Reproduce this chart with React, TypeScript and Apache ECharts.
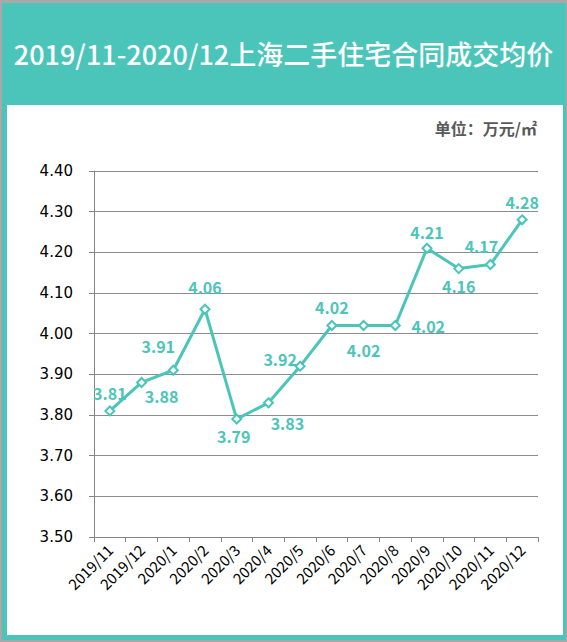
import React, { useEffect, useRef } from "react";
import * as echarts from "echarts";

const categories = [
  "2019/11", "2019/12", "2020/1", "2020/2", "2020/3", "2020/4", "2020/5",
  "2020/6", "2020/7", "2020/8", "2020/9", "2020/10", "2020/11", "2020/12",
];
const prices = [3.81, 3.88, 3.91, 4.06, 3.79, 3.83, 3.92, 4.02, 4.02, 4.02, 4.21, 4.16, 4.17, 4.28];
const labelOffsets: [number, number][] = [
  [0, -18], [20, 14], [-15, -24], [0, -22], [-3, 17], [19, 20], [-20, -7],
  [0, -19], [0, 24], [33, 0], [0, -16], [0, 17], [-9, -19], [0, -18],
];
const titleText = "2019/11-2020/12上海二手住宅合同成交均价";
const unitText = "单位：万元/㎡";

const TEAL = "#4BC5BA";
const FONT = "'Noto Sans CJK SC', 'Noto Sans', sans-serif";

export default function App() {
  const ref = useRef<HTMLDivElement>(null);
  useEffect(() => {
    document.body.style.margin = "0";
    if (!ref.current) return;
    const chart = echarts.init(ref.current, undefined, { renderer: "svg" });
    chart.setOption({
      animation: false,
      backgroundColor: "transparent",
      textStyle: { fontFamily: FONT },
      graphic: [
        {
          type: "text",
          x: 283.5,
          y: 53,
          style: {
            text: titleText,
            fill: "#ffffff",
            font: `500 27px ${FONT}`,
            align: "center",
            verticalAlign: "middle",
          },
        },
        {
          type: "text",
          x: 537,
          y: 128,
          style: {
            text: unitText,
            fill: "#595959",
            font: `bold 16px ${FONT}`,
            align: "right",
            verticalAlign: "middle",
          },
        },
      ],
      grid: { left: 94, right: 29, top: 171, bottom: 105, containLabel: false },
      xAxis: {
        type: "category",
        data: categories,
        boundaryGap: true,
        axisLine: { show: true, lineStyle: { color: "#868686", width: 1 } },
        axisTick: { show: true, alignWithLabel: false, length: 5, lineStyle: { color: "#868686" } },
        axisLabel: {
          rotate: 45,
          margin: 10,
          color: "#000000",
          fontSize: 15,
          fontFamily: FONT,
          interval: 0,
        },
        splitLine: { show: false },
      },
      yAxis: {
        type: "value",
        min: 3.5,
        max: 4.4,
        interval: 0.1,
        axisLine: { show: true, lineStyle: { color: "#868686", width: 1 } },
        axisTick: { show: true, length: 5, lineStyle: { color: "#868686" } },
        axisLabel: {
          margin: 21,
          color: "#000000",
          fontSize: 15,
          fontFamily: "'DejaVu Sans', sans-serif",
          formatter: (v: number) => v.toFixed(2),
        },
        splitLine: { show: true, lineStyle: { color: "#8c8c8c", width: 1 } },
      },
      series: [
        {
          type: "line",
          data: prices.map((v, i) => ({
            value: v,
            label: {
              show: true,
              position: "inside",
              offset: labelOffsets[i],
            },
          })),
          symbol: "diamond",
          symbolSize: 9,
          showAllSymbol: true,
          lineStyle: { color: TEAL, width: 3 },
          itemStyle: { color: "#ffffff", borderColor: TEAL, borderWidth: 2 },
          label: {
            show: true,
            color: TEAL,
            fontSize: 16,
            fontWeight: "bold",
            fontFamily: FONT,
            align: "center",
            verticalAlign: "middle",
            formatter: (p: any) => Number(p.value).toFixed(2),
          },
        },
      ],
    });
    return () => chart.dispose();
  }, []);

  return (
    <div style={{ position: "relative", width: 567, height: 642, background: "#a8a8a8", overflow: "hidden" }}>
      <div style={{ position: "absolute", left: 2, top: 3, width: 564, height: 637, background: TEAL }} />
      <div style={{ position: "absolute", left: 7, top: 105, width: 556, height: 530, background: "#ffffff" }} />
      <div ref={ref} style={{ position: "absolute", left: 0, top: 0, width: 567, height: 642 }} />
    </div>
  );
}
